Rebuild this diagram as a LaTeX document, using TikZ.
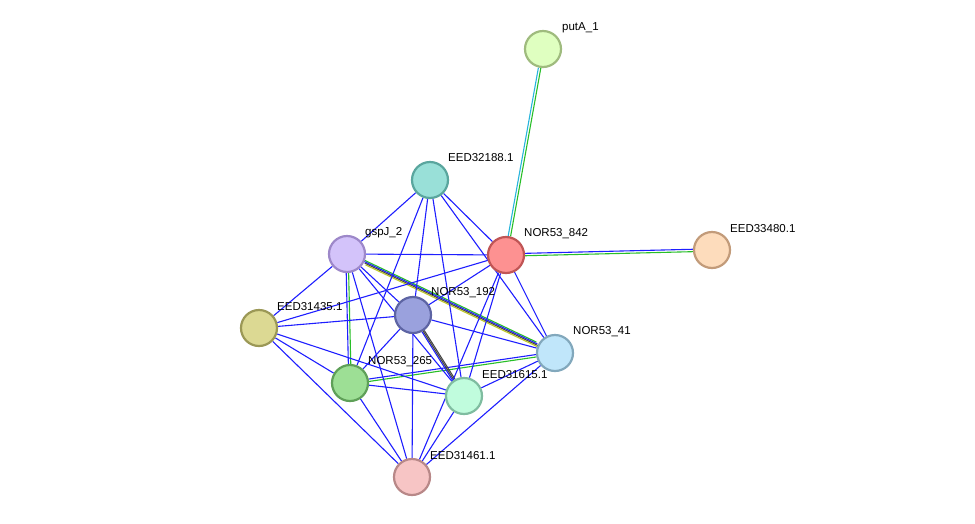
\documentclass[tikz,border=0pt]{standalone}
\usepackage{fontspec}
\setmainfont{Liberation Sans}
\begin{document}
\begin{tikzpicture}[x=1pt,y=-1pt,
  nd/.style={circle,minimum size=36pt,inner sep=0pt,line width=2.2pt},
  lb/.style={anchor=west,font=\fontsize{11.5}{13}\selectfont,inner sep=1pt},
  e/.style={draw={rgb,255:red,30;green,30;blue,255},line width=1.1pt},
  g/.style={draw={rgb,255:red,40;green,190;blue,40},line width=1.1pt},
  c/.style={draw={rgb,255:red,40;green,180;blue,220},line width=1.1pt},
  k/.style={draw={rgb,255:red,70;green,70;blue,70},line width=1.1pt},
  yl/.style={draw={rgb,255:red,190;green,200;blue,40},line width=1.1pt}]
\useasboundingbox (0,0) rectangle (975,523);
\def\N#1#2#3#4#5#6{\definecolor{f#1}{HTML}{#4}\definecolor{b#1}{HTML}{#5}%
 \node[nd,fill=f#1,draw=b#1] (#1) at (#2,#3) {};}
\N{P}{543}{49}{DFFFC0}{9FBB7E}{}
\N{E2}{430}{180}{99E0D8}{5AA69E}{}
\N{G}{347}{254}{D3C3FA}{9D88C9}{}
\N{N8}{506}{255}{FD9191}{C05555}{}
\N{E3}{712}{250}{FDDCBC}{C29B7A}{}
\N{E5}{259}{328}{DCD993}{9B9856}{}
\N{N19}{413}{315}{9AA1DD}{5D64A3}{}
\N{N4}{555}{353}{C0E6FA}{82A8BC}{}
\N{N26}{350}{383}{9DDF95}{5FA058}{}
\N{E6}{464}{396}{C0FCDD}{7FBCA0}{}
\N{E1}{412}{477}{F7C5C5}{B88888}{}
\begin{scope}[on background layer/.style={}]
\end{scope}
\begin{pgfinterruptboundingbox}\end{pgfinterruptboundingbox}
% edges drawn behind via layers
\pgfdeclarelayer{bg}\pgfsetlayers{bg,main}
\begin{pgfonlayer}{bg}
\draw[c,transform canvas={shift={(-1.2pt,0.2pt)}}] (P) -- (N8);
\draw[g,transform canvas={shift={(1.2pt,-0.2pt)}}] (P) -- (N8);
\draw[e,transform canvas={shift={(0,1.2pt)}}] (N8) -- (E3);
\draw[g,transform canvas={shift={(0,-1.2pt)}}] (N8) -- (E3);
\draw[e,transform canvas={shift={(-1.2pt,0)}}] (G) -- (N26);
\draw[g,transform canvas={shift={(1.2pt,0)}}] (G) -- (N26);
\draw[g,transform canvas={shift={(-1.3pt,2.7pt)}}] (G) -- (N4);
\draw[e,transform canvas={shift={(-0.45pt,0.9pt)}}] (G) -- (N4);
\draw[k,transform canvas={shift={(0.45pt,-0.9pt)}}] (G) -- (N4);
\draw[yl,transform canvas={shift={(1.3pt,-2.7pt)}}] (G) -- (N4);
\draw[e,transform canvas={shift={(-0.2pt,1.2pt)}}] (N26) -- (N4);
\draw[g,transform canvas={shift={(0.2pt,-1.2pt)}}] (N26) -- (N4);
\draw[e,transform canvas={shift={(-1.1pt,-0.7pt)}}] (N19) -- (E6);
\draw[k,transform canvas={shift={(0,0)}}] (N19) -- (E6);
\draw[k,transform canvas={shift={(1.1pt,0.7pt)}}] (N19) -- (E6);
\foreach \a/\b in {E2/G,E2/N8,E2/N4,E2/N26,E2/N19,E2/E6,G/N8,G/E5,G/N19,G/E6,G/E1,
  N8/E5,N8/N19,N8/N4,N8/E6,N8/E1,N19/E5,N19/N4,N19/N26,N19/E1,
  E5/N26,E5/E6,E5/E1,N26/E6,N26/E1,E6/N4,E6/E1,N4/E1}
  \draw[e] (\a) -- (\b);
\end{pgfonlayer}
\node[lb] at (561,28) {putA\_1};
\node[lb] at (447,158) {EED32188.1};
\node[lb] at (364,233) {gspJ\_2};
\node[lb] at (523,234) {NOR53\_842};
\node[lb] at (729,229) {EED33480.1};
\node[lb] at (276,307) {EED31435.1};
\node[lb] at (430,293) {NOR53\_192};
\node[lb] at (572,332) {NOR53\_41};
\node[lb] at (367,362) {NOR53\_265};
\node[lb] at (481,375) {EED31615.1};
\node[lb] at (429,456) {EED31461.1};
\end{tikzpicture}
\end{document}
